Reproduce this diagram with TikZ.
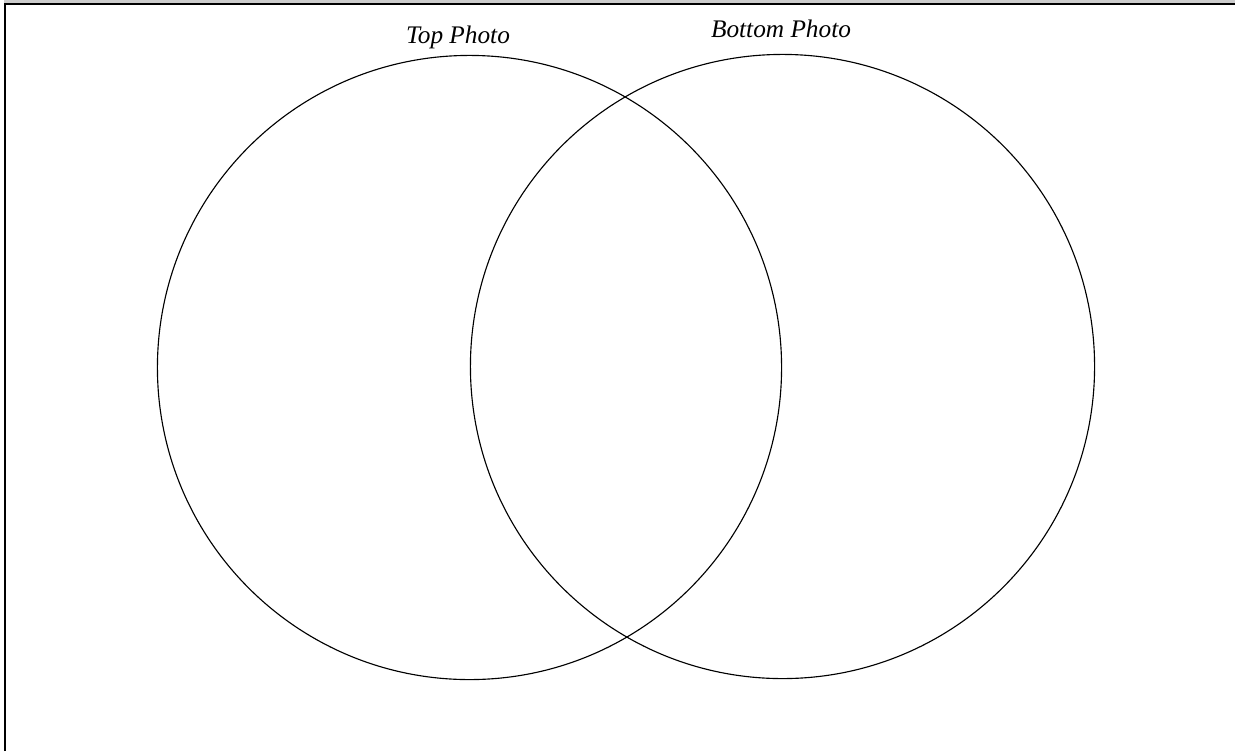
\documentclass[tikz,border=0pt]{standalone}
\usepackage{fontspec}
\setmainfont{Liberation Serif}
\usetikzlibrary{positioning}
\definecolor{framegray}{RGB}{204,204,204}

\begin{document}
\begin{tikzpicture}[x=0.025cm, y=-0.025cm,
    every node/.style={font=\fontsize{18}{20}\selectfont\itshape},
    vennset/.style={draw, circle, line width=0.8pt, minimum size=15.6cm, inner sep=0pt}]
  \useasboundingbox (0,0) rectangle (1235,751);
  % frame
  \fill[framegray] (4,0) rectangle (1235,3);
  \draw[line width=1.8pt] (5,751) -- (5,4) -- (1235,4);
  % sets
  \node[vennset] (topset) at (469.5,367.5) {};
  \node[vennset] (botset) at (782.5,366.5) {};
  \node[anchor=base] (toplbl) at (458,43) {Top Photo};
  \node[anchor=base] (botlbl) at (781,37) {Bottom Photo};
\end{tikzpicture}
\end{document}
